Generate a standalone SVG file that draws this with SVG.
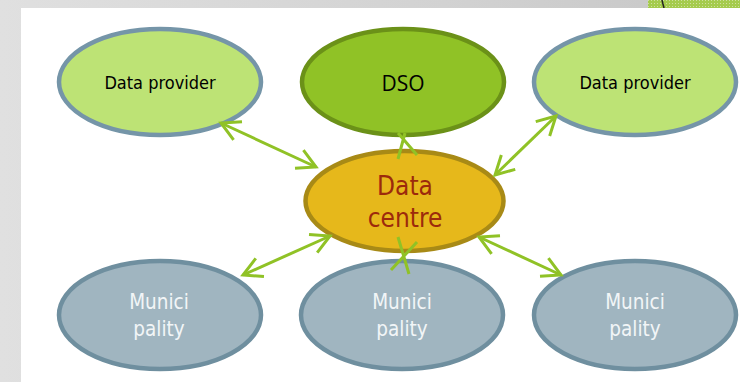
<svg xmlns="http://www.w3.org/2000/svg" width="740" height="382" viewBox="0 0 740 382">
<defs>
<linearGradient id="bg" x1="0" y1="0" x2="1" y2="0"><stop offset="0" stop-color="#e0e0e0"/><stop offset="0.6" stop-color="#d2d2d2"/><stop offset="1" stop-color="#c6c6c6"/></linearGradient>
<marker id="head" viewBox="-20 -12 23 24" markerWidth="23" markerHeight="24" refX="0" refY="0" orient="auto-start-reverse" markerUnits="userSpaceOnUse"><path d="M-18.5-10L0 0L-18.5 10" fill="none" stroke="#90c226" stroke-width="3"/></marker>
<pattern id="hatch" width="3" height="3" patternUnits="userSpaceOnUse"><rect width="3" height="3" fill="#a5cb4e"/><rect width="1" height="1" fill="#cfe0a0"/></pattern>
</defs>
<style>
.pale{fill:#bde375;stroke:#7595a8;stroke-width:4.5}
.muni{fill:#a0b5c0;stroke:#6f8f9f;stroke-width:4.5}
.dso{fill:#90c226;stroke:#6b9118;stroke-width:4.5}
.dc{fill:#e6b81b;stroke:#a88a16;stroke-width:4.5}
text{font-family:"DejaVu Sans Condensed","DejaVu Sans",sans-serif;text-anchor:middle}
.sm{font-size:18px;fill:#000}
.mn{font-size:20.5px;fill:#f2f5f7}
.dt{font-size:26px;fill:#9c2a0c}
.con{fill:none;stroke:#90c226;stroke-width:3;marker-start:url(#head);marker-end:url(#head)}
.seg{fill:none;stroke:#90c226;stroke-width:3}
</style>
<rect width="740" height="382" fill="url(#bg)"/>
<rect x="648" y="0" width="92" height="8" fill="url(#hatch)"/>
<path d="M662 0L664 8" stroke="#222" stroke-width="1.5"/>
<rect x="21" y="8" width="719" height="374" fill="#fff"/>
<g id="provider-left"><ellipse class="pale" cx="160" cy="82" rx="101" ry="53"/><text class="sm" x="160" y="89">Data provider</text></g>
<g id="dso"><ellipse class="dso" cx="403" cy="82" rx="101" ry="53"/><text x="403" y="91" font-size="21" fill="#000" style="font-family:'Open Sans',sans-serif">DSO</text></g>
<g id="provider-right"><ellipse class="pale" cx="635" cy="82" rx="101" ry="53"/><text class="sm" x="635" y="89">Data provider</text></g>
<g id="data-centre"><ellipse class="dc" cx="404.5" cy="201" rx="99" ry="50"/><text class="dt" x="405" y="195">Data</text><text class="dt" x="405" y="227">centre</text></g>
<g id="muni-left"><ellipse class="muni" cx="160" cy="315" rx="101" ry="54"/><text class="mn" x="159" y="309">Munici</text><text class="mn" x="159" y="336">pality</text></g>
<g id="muni-mid"><ellipse class="muni" cx="402" cy="315" rx="101" ry="54"/><text class="mn" x="402" y="309">Munici</text><text class="mn" x="402" y="336">pality</text></g>
<g id="muni-right"><ellipse class="muni" cx="635" cy="315" rx="101" ry="54"/><text class="mn" x="635" y="309">Munici</text><text class="mn" x="635" y="336">pality</text></g>
<g id="connectors">
<path class="con" d="M221 123L316 167"/>
<path class="seg" d="M398 159L405 133M417 155L398 133"/>
<path class="con" d="M556 116L495 175"/>
<path class="con" d="M330 236L243 275"/>
<path class="seg" d="M398 237L409 274M417 242L391 270"/>
<path class="con" d="M479 237L561 275"/>
</g>
</svg>
